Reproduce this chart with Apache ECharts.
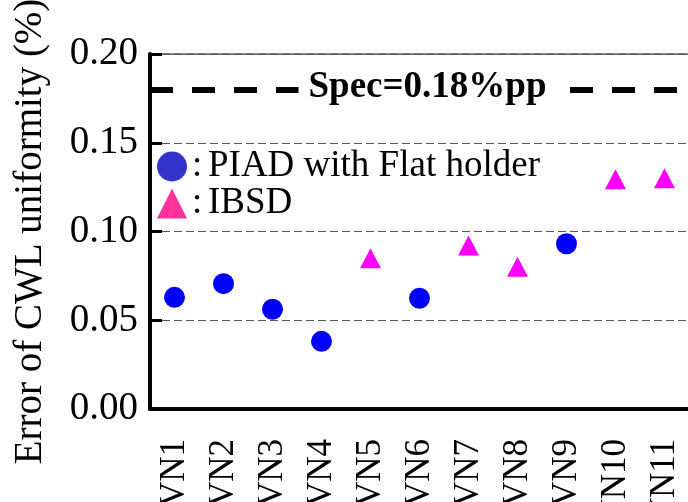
<!DOCTYPE html>
<html>
<head>
<meta charset="utf-8">
<script src="https://cdn.jsdelivr.net/npm/echarts@6/dist/echarts.min.js"></script>
<style>
html,body{margin:0;padding:0;background:#fff;}
#chart{width:688px;height:502px;}
</style>
</head>
<body>
<div id="chart"></div>
<script>
const categories = ['VN1','VN2','VN3','VN4','VN5','VN6','VN7','VN8','VN9','VN10','VN11'];
const piadValues = [0.0629, 0.0706, 0.0562, 0.0381, null, 0.0624, null, null, 0.0931, null, null];
const ibsdValues = [null, null, null, null, 0.0849, null, 0.0921, 0.0802, null, 0.1294, 0.1300];
const yTicks = [0, 0.05, 0.10, 0.15, 0.20];
const specValue = 0.18;
const specLabel = 'Spec=0.18%pp';
const seriesNames = ['PIAD with Flat holder', 'IBSD'];
const yTitle = 'Error of CWL uniformity (%)';

const FONT = "'Liberation Serif', 'Times New Roman', serif";

function pairs(vals){
  const out = [];
  vals.forEach((v,i)=>{ if(v!==null) out.push([categories[i], v]); });
  return out;
}

const chart = echarts.init(document.getElementById('chart'), null, {renderer:'canvas'});
chart.setOption({
  animation: false,
  backgroundColor: '#fff',
  grid: {left:150, top:54, right:-1, bottom:93, show:true, borderColor:'#000', borderWidth:1,
         containLabel:false, outerBoundsMode:'none'},
  legend: {
    orient:'vertical', left:157, top:148, padding:0, itemGap:0,
    itemWidth:30, itemHeight:30, itemTextGap:9,
    data:[
      {name:seriesNames[0], icon:'circle', itemStyle:{color:'#3333CC', opacity:1}},
      {name:seriesNames[1], icon:'triangle', itemStyle:{color:'#FF3399', opacity:1}}
    ],
    formatter: n => '{c|:}' + n,
    textStyle:{fontFamily:FONT, fontSize:37, color:'#000', lineHeight:34,
      rich:{c:{width:16, fontFamily:FONT, fontSize:37, color:'#000', lineHeight:34}}}
  },
  xAxis: {
    type:'category', data:categories, boundaryGap:true,
    axisLine:{lineStyle:{color:'#000', width:4}},
    axisTick:{inside:true, length:11, lineStyle:{color:'#000', width:3}},
    axisLabel:{interval:0, rotate:90, margin:30, fontFamily:FONT, fontSize:35, color:'#000'},
    splitLine:{show:false}
  },
  yAxis: {
    type:'value', min:yTicks[0], max:yTicks[yTicks.length-1], interval:0.05,
    name:yTitle, nameLocation:'middle', nameRotate:90, nameGap:100,
    nameTextStyle:{fontFamily:FONT, fontSize:39, color:'#000'},
    axisLine:{show:true, lineStyle:{color:'#000', width:4}},
    axisTick:{show:true, inside:true, length:12, lineStyle:{color:'#000', width:3}},
    axisLabel:{margin:12, fontFamily:FONT, fontSize:39, color:'#000', formatter: v => v.toFixed(2)},
    splitLine:{show:true, lineStyle:{color:'#555', width:1, type:[8,4]}}
  },
  series: [
    {
      name:seriesNames[0], type:'scatter', symbol:'circle', symbolSize:21,
      itemStyle:{color:'#0000FF', opacity:1},
      data: pairs(piadValues),
      markLine:{
        silent:true, symbol:'none',
        lineStyle:{color:'#000', width:6, type:[23,19], opacity:1},
        label:{show:true, position:'middle', formatter:specLabel, fontFamily:FONT, fontWeight:'bold',
          fontSize:37, color:'#000', backgroundColor:'#fff', padding:[0,10], distance:0, offset:[8,16]},
        data:[{yAxis:specValue}]
      }
    },
    {
      name:seriesNames[1], type:'scatter', symbol:'triangle', symbolSize:[21,20],
      itemStyle:{color:'#FF00FF', opacity:1},
      data: pairs(ibsdValues)
    }
  ]
});
</script>
</body>
</html>
